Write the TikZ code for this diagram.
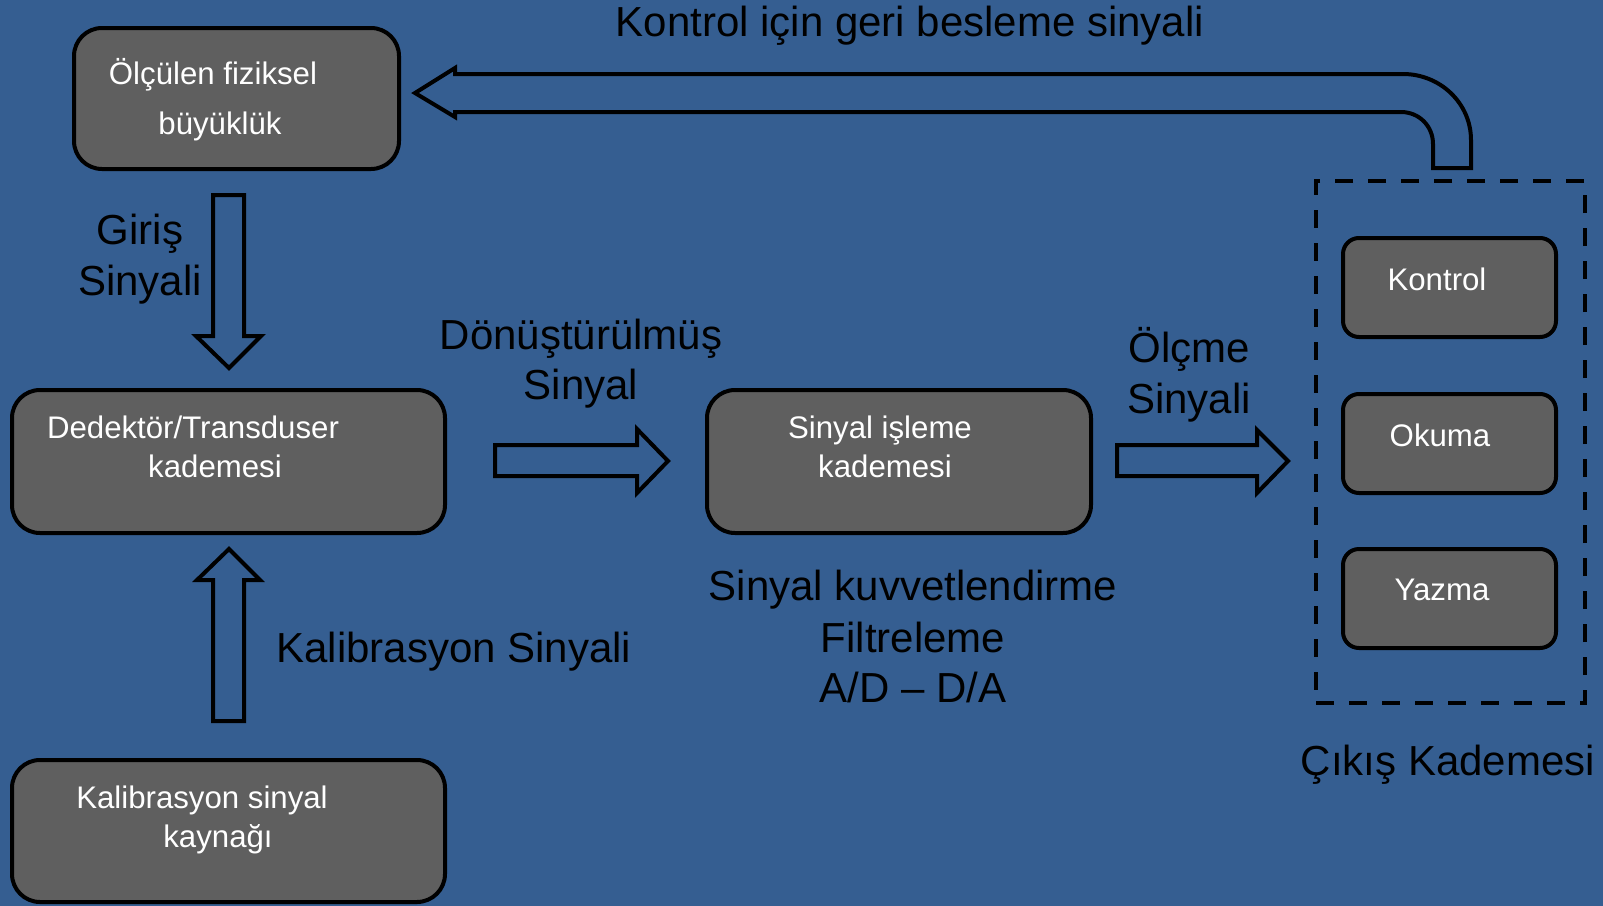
\documentclass[tikz,border=0pt]{standalone}
\usepackage{fontspec}
\setmainfont{Liberation Sans}
\definecolor{bg}{RGB}{53,94,145}
\definecolor{boxfill}{RGB}{95,95,95}
\begin{document}
\begin{tikzpicture}[x=0.5pt,y=-0.5pt,
  box/.style={draw=black, line width=2pt, fill=boxfill, rounded corners=14pt, inner sep=0pt},
  sbox/.style={box, rounded corners=8pt, minimum width=106.5pt, minimum height=49.5pt},
  btxt/.style={text=white, font=\fontsize{15.6}{18}\selectfont, inner sep=0pt},
  big/.style={text=black, font=\fontsize{21}{25}\selectfont, inner sep=0pt},
  barrow/.style={draw=black, line width=2pt, line join=miter},
  dashbox/.style={draw=black, line width=2pt, dash pattern=on 9pt off 7.5pt, inner sep=0pt}]
\fill[bg] (0,0) rectangle (1603,906);
\useasboundingbox (0,0) rectangle (1603,906);

% boxes
\node[box, minimum width=162.5pt, minimum height=70.5pt] (meas) at (236.5,98.5) {};
\node[box, minimum width=216.5pt, minimum height=71.5pt] (det) at (228.5,461.5) {};
\node[box, minimum width=216.5pt, minimum height=71pt] (cal) at (228.5,831) {};
\node[box, minimum width=192pt, minimum height=71.5pt] (proc) at (899,461.5) {};
\node[dashbox, minimum width=134.5pt, minimum height=261pt] (out) at (1450.5,442) {};
\node[sbox] (kon) at (1449.5,287.5) {};
\node[sbox] (oku) at (1449.5,443.5) {};
\node[sbox] (yaz) at (1449.5,598.5) {};

% box texts
\node[btxt] (t1a) at (213,75) {Ölçülen fiziksel};
\node[btxt] (t1b) at (220,126) {büyüklük};
\node[btxt] (t2a) at (193,427) {Dedektör/Transduser};
\node[btxt] (t2b) at (215,466) {kademesi};
\node[btxt] (t3a) at (202,800) {Kalibrasyon sinyal};
\node[btxt] (t3b) at (218,839) {kaynağı};
\node[btxt] (t4a) at (880,430) {Sinyal işleme};
\node[btxt] (t4b) at (885,466) {kademesi};
\node[btxt] (t5) at (1437,279) {Kontrol};
\node[btxt] (t6) at (1440,435) {Okuma};
\node[btxt] (t7) at (1442,590) {Yazma};

% labels
\node[big] (ttl) at (910,26) {Kontrol için geri besleme sinyali};
\node[big] at (140,234) {Giriş};
\node[big] at (140,285) {Sinyali};
\node[big] at (581,339) {Dönüştürülmüş};
\node[big] at (581,389) {Sinyal};
\node[big] at (1189,349) {Ölçme};
\node[big] at (1189,403) {Sinyali};
\node[big, anchor=west] at (276,652) {Kalibrasyon Sinyali};
\node[big] at (913,590) {Sinyal kuvvetlendirme};
\node[big] at (913,637) {Filtreleme};
\node[big] at (913,687) {A/D -- D/A};
\node[big] at (1448,765) {Çıkış Kademesi};

% block arrows
\draw[barrow] (213,195) -- (244,195) -- (244,336) -- (261,336) -- (229,368) -- (196,336) -- (213,336) -- cycle;
\draw[barrow] (213,721) -- (244,721) -- (244,580) -- (260,580) -- (229,549) -- (197,580) -- (213,580) -- cycle;
\draw[barrow] (495,445) -- (637,445) -- (637,429) -- (668,461) -- (637,493) -- (637,476) -- (495,476) -- cycle;
\draw[barrow] (1117,445) -- (1257,445) -- (1257,430) -- (1288,461) -- (1257,493) -- (1257,476) -- (1117,476) -- cycle;
% feedback arrow
\draw[barrow] (415,93) -- (455,68) -- (455,74) -- (1403,74)
  .. controls (1440,74) and (1471,103) .. (1471,140) -- (1471,168) -- (1433,168) -- (1433,144)
  .. controls (1433,126) and (1419,112) .. (1401,112) -- (455,112) -- (455,117) -- cycle;
\end{tikzpicture}
\end{document}
